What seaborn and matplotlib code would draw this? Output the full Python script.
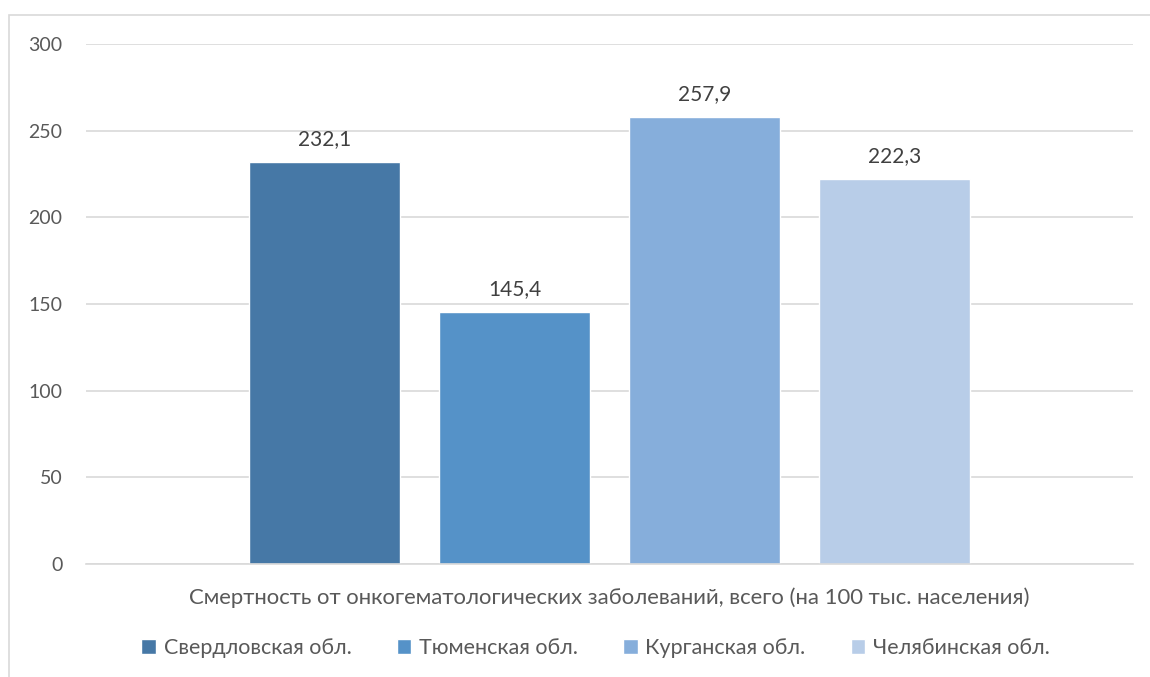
import matplotlib
matplotlib.use('Agg')
import matplotlib.pyplot as plt
import matplotlib.patches as mpatches
import pandas as pd
import seaborn as sns

# Chart data.
category = 'Смертность от онкогематологических заболеваний, всего (на 100 тыс. населения)'
regions = ['Свердловская обл.', 'Тюменская обл.', 'Курганская обл.', 'Челябинская обл.']
values = [232.1, 145.4, 257.9, 222.3]
colors = ['#4678A6', '#5592C8', '#86AEDB', '#B8CDE8']

data_df = pd.DataFrame({'Category': [category] * len(regions),
                        'Region': regions,
                        'Value': values})

sns.set_theme(style='white')
plt.rcParams['font.family'] = ['Lato', 'Noto Sans', 'DejaVu Sans']
text_color = '#595959'

fig = plt.figure(figsize=(11.5, 6.77), dpi=100)
ax = fig.add_axes([86 / 1150, 1 - 564 / 677, (1133 - 86) / 1150, (564 - 44) / 677])

sns.barplot(data=data_df, x='Category', y='Value', hue='Region',
            palette=colors, width=0.726, gap=0.205, saturation=1,
            legend=True, ax=ax)

ax.set_ylim(0, 300)
ax.set_yticks(range(0, 301, 50))
ax.set_xlim(-0.5, 0.5)
ax.yaxis.grid(True, color='#D9D9D9', linewidth=1.2)
ax.set_axisbelow(True)
for side in ['top', 'right', 'left']:
    ax.spines[side].set_visible(False)
ax.spines['bottom'].set_color('#D9D9D9')
ax.spines['bottom'].set_linewidth(1.2)
ax.tick_params(axis='y', length=0, pad=17, labelsize=14, labelcolor=text_color)
ax.tick_params(axis='x', length=0, pad=17, labelsize=15.9, labelcolor=text_color)
ax.set_xlabel('')
ax.set_ylabel('')

for cont in ax.containers:
    ax.bar_label(cont, labels=[f'{v:.1f}'.replace('.', ',') for v in cont.datavalues],
                 padding=9, fontsize=15, color='#404040')

# Legend below the chart.
handles, labels = ax.get_legend_handles_labels()
ax.get_legend().remove()
fig.legend(handles, labels, loc='center', bbox_to_anchor=(595.5 / 1150, 1 - 648 / 677),
           ncol=4, frameon=False, fontsize=15.5, labelcolor=text_color,
           handlelength=0.68, handleheight=0.68, handletextpad=0.35,
           columnspacing=2.1, borderpad=0, borderaxespad=0)

# Chart frame.
fig.patches.append(mpatches.Rectangle((9 / 1150, -0.01), 1.1, 1 - 15 / 677 + 0.01,
                                      transform=fig.transFigure, fill=False,
                                      edgecolor='#D9D9D9', linewidth=1.2))

plt.savefig('out.png', dpi=100)
